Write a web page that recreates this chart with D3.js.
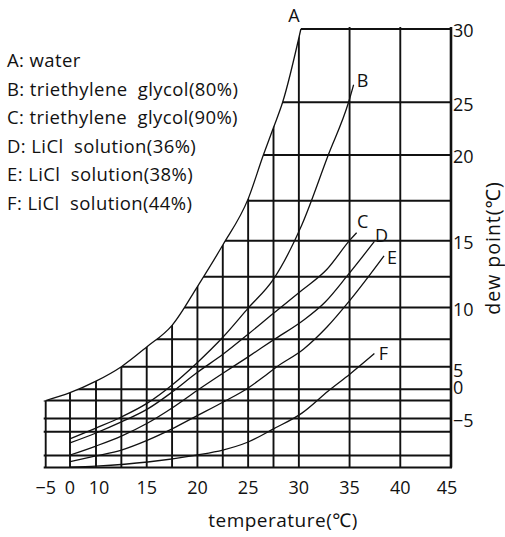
<!DOCTYPE html>
<html>
<head>
<meta charset="utf-8">
<script src="https://cdn.jsdelivr.net/npm/d3@7/dist/d3.min.js"></script>
<style>
  body { margin: 0; background: #fff; }
  text { font-family: "Open Sans", "Noto Sans", sans-serif; fill: #111; }
</style>
</head>
<body>
<div id="chart"></div>
<script>
// tick labels and grid values (temperature / dew point, as printed on the chart)
var xTicks = [-5, 0, 10, 15, 20, 25, 30, 35, 40, 45];
var xGrid = [-5, 0, 10, 12.5, 15, 17.5, 20, 22.5, 25, 27.5, 30, 35, 40, 45];
var yTicks = [30, 25, 20, 15, 10, 5, 0, -5];
var yGrid = [30, 25, 20, 17.5, 15, 12.5, 10, 7.5, 5, 0, -2, -5, -7.5, -12.5, -15];

var legendItems = [
  "A: water",
  "B: triethylene  glycol(80%)",
  "C: triethylene  glycol(90%)",
  "D: LiCl  solution(36%)",
  "E: LiCl  solution(38%)",
  "F: LiCl  solution(44%)"
];

// curves: [temperature, dew point]
var curveA = [[-5,-2],[0,-0.6],[10,1.8],[12.5,5],[15,6.8],[17.5,8.6],[20,11.7],[22.5,14.7],[25,17.6],[26.5,20],[27.5,22.6],[28.4,25],[30.2,30]];
var curveB = [[0,-9.0],[10,-6.8],[12.5,-4.75],[15.1,-2.4],[17.5,0.95],[19.9,5.3],[22.55,7.7],[25,9.95],[27.5,12.3],[30.3,16],[32.9,20],[34.9,25],[35.4,26.2]];
var curveC = [[0,-9.85],[10,-7.75],[12.5,-5.65],[15.1,-3.4],[17.5,-0.5],[19.9,3.6],[22.55,6.15],[25,7.9],[27.5,9.55],[30.3,11.4],[32.75,13],[35.05,15.05],[35.7,15.5]];
var curveD = [[0,-12.4],[10,-10.5],[12.5,-8.4],[15.1,-5.85],[17.5,-3.25],[19.9,-0.3],[22.55,3.6],[25,5.9],[27.5,7.45],[30.45,9],[32.6,10.45],[34.7,12.5],[37.45,14.95]];
var curveE = [[0,-13.8],[10,-12.6],[12.5,-11.35],[15.1,-9.25],[17.5,-6.95],[19.9,-4.6],[22.55,-2.25],[25,0.3],[26.5,2.7],[27.8,4.95],[30.45,6.6],[32.75,8.45],[35.05,10.6],[38.4,13.95]];
var curveF = [[0,-14.95],[10,-14.7],[15.1,-13.85],[19.9,-12.4],[22.5,-11.35],[25,-9.65],[27.5,-6.95],[30.3,-4.1],[32.9,-0.3],[35.05,3.4],[37.45,6.2]];

var curveNames = ["A", "B", "C", "D", "E", "F"];

var W = 505, H = 537;
var pLeft = 45.7, pRight = 451, pTop = 29, pBottom = 467.5;

var svg = d3.select("#chart").append("svg").attr("width", W).attr("height", H);

// the printed axes are not evenly spaced, so both scales are piecewise
var x = d3.scaleLinear()
  .domain([-5, 0, 10, 45])
  .range([pLeft, pLeft + 24.3, pLeft + 50.3, pRight]);

var y = d3.scaleLinear()
  .domain([30, 25, 20, 17.5, 15, 12.5, 10, 7.5, 5, 0, -2, -5, -7.5, -12.5, -15])
  .range([pTop, 102.3, 155, 200.7, 240.7, 276.7, 307.5, 339.3, 366.7, 389.3, 400.5, 418.5, 431.8, 455.5, pBottom]);

var line = d3.line().x(function (d) { return x(d[0]); }).y(function (d) { return y(d[1]); })
  .curve(d3.curveMonotoneX);

// grid only lives below/right of the water curve
var last = curveA[curveA.length - 1];
var clipD = line(curveA) +
  "L" + x(last[0]) + "," + (y(30) - 2) +
  "L" + (pRight + 3) + "," + (y(30) - 2) +
  "L" + (pRight + 3) + "," + (pBottom + 2) +
  "L" + (pLeft - 2) + "," + (pBottom + 2) +
  "L" + (pLeft - 2) + "," + y(curveA[0][1]) + "Z";

svg.append("defs").append("clipPath").attr("id", "gridclip")
  .append("path").attr("d", clipD);

var grid = svg.append("g").attr("clip-path", "url(#gridclip)");

grid.selectAll(".vg").data(xGrid).enter().append("line")
  .attr("x1", function (d) { return x(d); }).attr("x2", function (d) { return x(d); })
  .attr("y1", pTop - 5).attr("y2", pBottom)
  .attr("stroke", "#111").attr("stroke-width", function (d) { return d === 45 ? 2.6 : 1.9; });

grid.selectAll(".hg").data(yGrid).enter().append("line")
  .attr("x1", pLeft - 5).attr("x2", pRight + 1)
  .attr("y1", function (d) { return y(d); }).attr("y2", function (d) { return y(d); })
  .attr("stroke", "#111").attr("stroke-width", 1.9);

// curves
var curves = [curveA, curveB, curveC, curveD, curveE, curveF];
svg.selectAll(".curve").data(curves).enter().append("path")
  .attr("d", line)
  .attr("fill", "none")
  .attr("stroke", "#111")
  .attr("stroke-width", 1.3);

// curve letters placed just past the end of each curve
var labelOffsets = [[-7, -13], [9, -4], [6, -11], [7, -6], [8, 2], [9, 0]];
svg.selectAll(".clabel").data(curves).enter().append("text")
  .attr("x", function (d, i) { return x(d[d.length - 1][0]) + labelOffsets[i][0]; })
  .attr("y", function (d, i) { return y(d[d.length - 1][1]) + labelOffsets[i][1]; })
  .attr("dy", "0.35em")
  .attr("text-anchor", "middle")
  .style("font-size", "18px")
  .text(function (d, i) { return curveNames[i]; });

// x tick labels
svg.selectAll(".xt").data(xTicks).enter().append("text")
  .attr("x", function (d) { return x(d) + (d === 45 ? -4 : d === 10 ? 3 : 0); })
  .attr("y", 494)
  .attr("text-anchor", "middle")
  .style("font-size", "18px")
  .text(function (d) { return d < 0 ? "\u2212" + Math.abs(d) : d; });

// y tick labels
svg.selectAll(".yt").data(yTicks).enter().append("text")
  .attr("x", pRight + 2)
  .attr("y", function (d) { return y(d) + (d === 5 ? 4 : d === 0 ? -2 : 2); })
  .attr("dy", "0.35em")
  .style("font-size", "18px")
  .text(function (d) { return d < 0 ? "\u2212" + Math.abs(d) : d; });

// axis titles
svg.append("text")
  .attr("x", 283).attr("y", 527)
  .attr("text-anchor", "middle")
  .style("font-size", "19px")
  .style("letter-spacing", "0.5px")
  .text("temperature(\u2103)");

svg.append("text")
  .attr("transform", "translate(500,248) rotate(-90)")
  .attr("text-anchor", "middle")
  .style("font-size", "19.5px")
  .style("letter-spacing", "1px")
  .text("dew point(\u2103)");

// legend
svg.selectAll(".leg").data(legendItems).enter().append("text")
  .attr("x", 7)
  .attr("y", function (d, i) { return 67 + i * 28.6; })
  .style("font-size", "18.5px")
  .style("letter-spacing", "0.4px")
  .style("white-space", "pre")
  .attr("xml:space", "preserve")
  .text(function (d) { return d; });
</script>
</body>
</html>
